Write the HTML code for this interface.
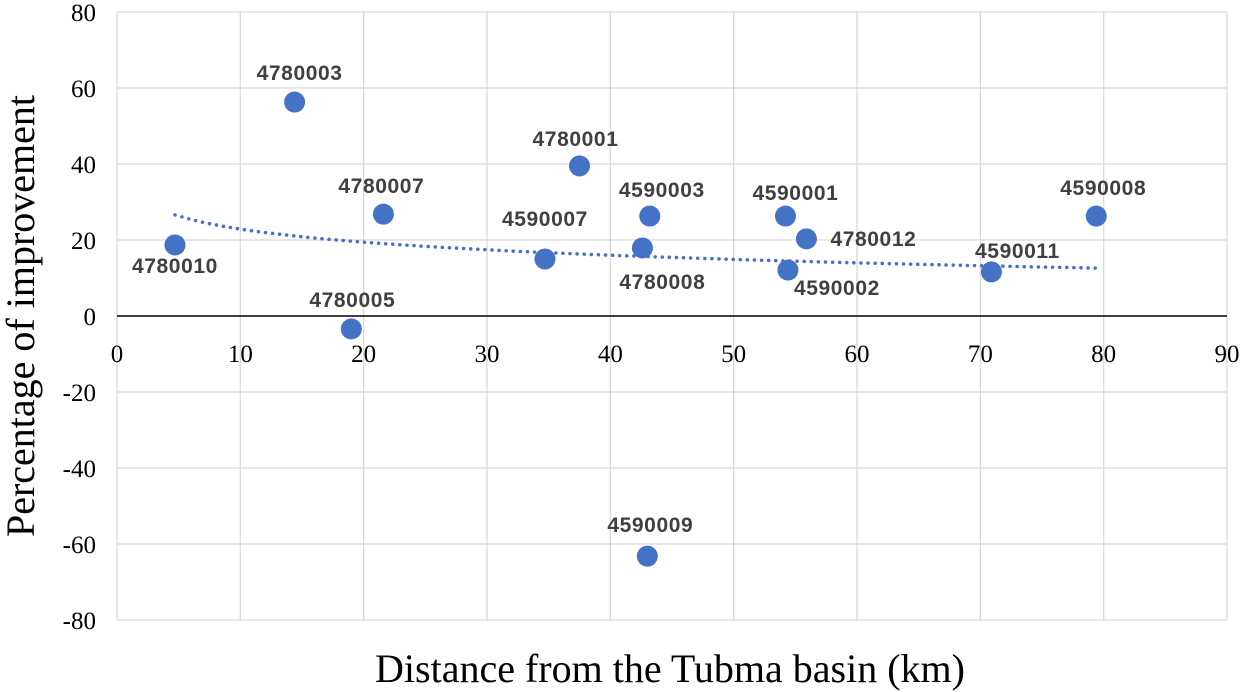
<!DOCTYPE html>
<html><head><meta charset="utf-8"><style>
body{margin:0;background:#fff;}
svg{display:block;}
.tick{font-family:"Liberation Serif",serif;font-size:25px;fill:#000;}
.pl{font-family:"Liberation Sans",sans-serif;font-size:21px;font-weight:bold;fill:#404040;letter-spacing:0.6px;}
</style></head><body>
<svg id="chart" width="1242" height="692" xmlns="http://www.w3.org/2000/svg">
<g id="grid"></g>
<g id="axes"></g>
<g id="trend"></g>
<g id="pts"></g>
<text x="670" y="682" text-anchor="middle" style="font-family:'Liberation Serif',serif;font-size:40px">Distance from the Tubma basin (km)</text>
<text transform="translate(34,316) rotate(-90)" text-anchor="middle" style="font-family:'Liberation Serif',serif;font-size:40px">Percentage of improvement</text>
</svg>
<script>
const stations=["4780010","4780003","4780007","4780005","4590007","4780001","4590003","4780008","4590009","4590001","4590002","4780012","4590011","4590008"];
const distance=[4.7,14.4,21.6,19.0,34.7,37.5,43.2,42.6,43.0,54.2,54.4,55.9,70.9,79.4];
const improvement=[18.7,56.3,26.8,-3.4,15.0,39.5,26.3,17.9,-63.2,26.3,12.1,20.3,11.6,26.3];
const xTicks=[0,10,20,30,40,50,60,70,80,90];
const yTicks=[-80,-60,-40,-20,0,20,40,60,80];
const trendA=34.26, trendB=-4.95;
// label offsets (layout)
const ldx=[0,5,-2,1,0,-4,12,20,3,10,49,67,26,7];
const ldy=[28,-22,-21,-22,-33,-20,-19,41,-24,-16,25,7,-14,-21];
const NS="http://www.w3.org/2000/svg";
const X=v=>117+v*(1227-117)/90, Y=v=>316-v*3.8;
function mk(t,a,p){const e=document.createElementNS(NS,t);for(const k in a)e.setAttribute(k,a[k]);p.appendChild(e);return e;}
const g=document.getElementById('grid'),ax=document.getElementById('axes');
xTicks.forEach(t=>{const l=mk('line',{x1:X(t),x2:X(t),y1:Y(80),y2:Y(-80),stroke:'#d9d9d9','stroke-width':1.3},g);

const tx=mk('text',{x:X(t),y:362,'text-anchor':'middle',class:'tick'},ax);tx.textContent=t;
});
yTicks.forEach(t=>{if(t!==0){const l=mk('line',{x1:X(0),x2:X(90),y1:Y(t),y2:Y(t),stroke:'#d9d9d9','stroke-width':1.3},g);
}
const tx=mk('text',{x:96,y:Y(t)+9,'text-anchor':'end',class:'tick'},ax);tx.textContent=t;
});
const z=mk('line',{x1:X(0),x2:X(90),y1:Y(0),y2:Y(0),stroke:'#000','stroke-width':1.5},ax);

const xmin=Math.min(...distance),xmax=Math.max(...distance);let d='';
for(let i=0;i<=60;i++){const x=xmin+(xmax-xmin)*i/60;const y=trendA+trendB*Math.log(x);d+=(i?'L':'M')+X(x).toFixed(1)+','+Y(y).toFixed(1);}
const tp=mk('path',{d:d,fill:'none',stroke:'#4472c4','stroke-width':3.5,'stroke-dasharray':'0.1 7','stroke-linecap':'round'},document.getElementById('trend'));

const pg=document.getElementById('pts');
stations.forEach((s,i)=>{const c=mk('circle',{cx:X(distance[i]),cy:Y(improvement[i]),r:10.5,fill:'#4472c4'},pg);

const t=mk('text',{x:X(distance[i])+ldx[i],y:Y(improvement[i])+ldy[i],'text-anchor':'middle',class:'pl'},pg);t.textContent=s;
});
</script>
</body></html>
